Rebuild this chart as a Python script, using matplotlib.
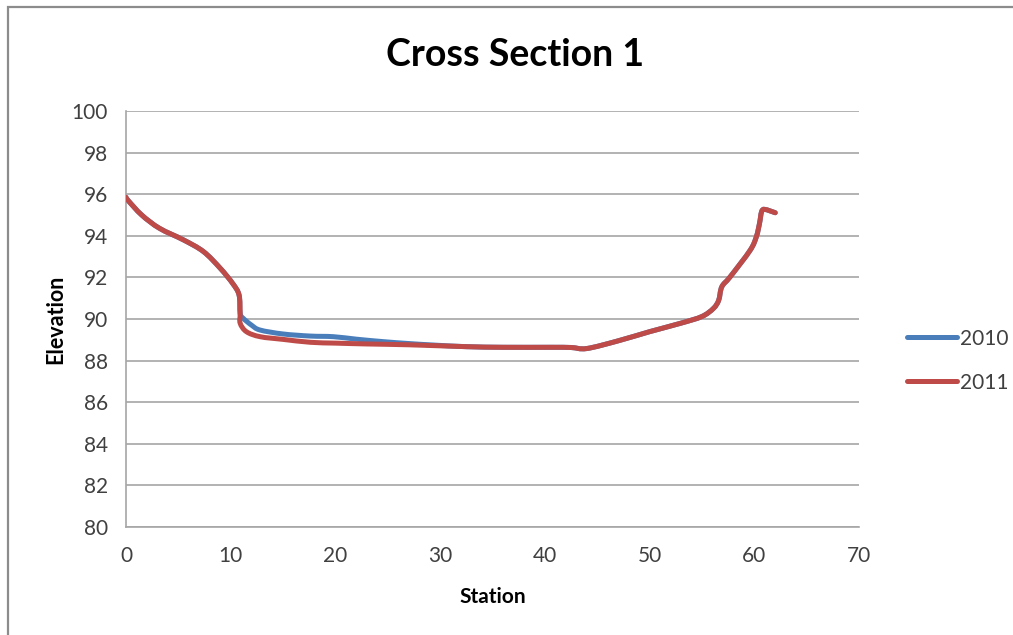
import matplotlib
matplotlib.use("Agg")
import matplotlib.pyplot as plt
import numpy as np
from matplotlib.patches import Rectangle, PathPatch
from matplotlib.path import Path
from matplotlib.lines import Line2D

# Surveyed cross-section profiles (station, elevation)
station_2010 = [0.0, 0.2, 1.5, 3.2, 5.5, 7.4, 9.0, 10.2, 10.8, 10.9, 11.2, 12.0, 12.8,
                15.0, 17.6, 19.8, 22.0, 24.6, 27.0, 29.3, 32.5, 36.0, 40.5, 42.5,
                44.0, 47.0, 50.0, 53.0, 55.0, 56.1, 56.6, 56.9, 57.7, 59.6, 60.2,
                60.5, 60.7, 61.0, 62.0]
elev_2010 = [95.85, 95.7, 95.0, 94.36, 93.8, 93.24, 92.44, 91.7, 91.15, 90.27, 90.03,
             89.7, 89.47, 89.28, 89.18, 89.15, 89.03, 88.91, 88.82, 88.75, 88.67,
             88.64, 88.64, 88.63, 88.58, 88.95, 89.39, 89.8, 90.12, 90.51, 90.9,
             91.55, 92.03, 93.3, 93.96, 94.6, 95.16, 95.27, 95.11]

station_2011 = [0.0, 0.2, 1.5, 3.2, 5.5, 7.4, 9.0, 10.2, 10.8, 10.9, 10.9, 11.5, 12.8,
                15.0, 17.6, 20.0, 23.0, 27.0, 32.5, 36.0, 40.5, 42.5, 44.0, 47.0,
                50.0, 53.0, 55.0, 56.1, 56.6, 56.9, 57.7, 59.6, 60.2, 60.5, 60.7,
                61.0, 62.0]
elev_2011 = [95.85, 95.7, 95.0, 94.36, 93.8, 93.24, 92.44, 91.7, 91.15, 90.27, 89.8,
             89.39, 89.15, 89.02, 88.88, 88.84, 88.8, 88.76, 88.67, 88.64, 88.64,
             88.63, 88.58, 88.95, 89.39, 89.8, 90.12, 90.51, 90.9, 91.55, 92.03,
             93.3, 93.96, 94.6, 95.16, 95.27, 95.11]

x_ticks = [0, 10, 20, 30, 40, 50, 60, 70]
y_ticks = [80, 82, 84, 86, 88, 90, 92, 94, 96, 98, 100]
series_labels = ["2010", "2011"]
series_colors = ["#4a7ebb", "#be4b48"]

FONT = ["Lato", "DejaVu Sans"]
plt.rcParams["font.family"] = FONT


def smooth_path(xs, ys, tension=1 / 6):
    """Cubic Bezier path through every point (spreadsheet-style smoothed line)."""
    p = np.column_stack([xs, ys]).astype(float)
    n = len(p)
    verts = [p[0]]
    codes = [Path.MOVETO]
    for i in range(n - 1):
        p0 = p[i - 1] if i > 0 else p[i]
        p1, p2 = p[i], p[i + 1]
        p3 = p[i + 2] if i + 2 < n else p[i + 1]
        c1 = p1 + (p2 - p0) * tension
        c2 = p2 - (p3 - p1) * tension
        verts += [c1, c2, p2]
        codes += [Path.CURVE4] * 3
    return Path(verts, codes)


fig = plt.figure(figsize=(10.13, 6.35), dpi=100)
fig.patch.set_facecolor("white")

# Chart frame
fig.patches.append(Rectangle((8 / 1013, -0.1), 1.2, 1.1 - 7 / 635,
                             transform=fig.transFigure, fill=False,
                             edgecolor="#8c8c8c", linewidth=1.6, zorder=0))

ax = fig.add_axes([126 / 1013, 1 - 527 / 635, (859 - 126) / 1013, (527 - 111) / 635])

for xs, ys, col, z in [(station_2010, elev_2010, series_colors[0], 3),
                       (station_2011, elev_2011, series_colors[1], 4)]:
    ax.add_patch(PathPatch(smooth_path(xs, ys), fill=False, edgecolor=col, lw=3.6,
                           capstyle="round", joinstyle="round", zorder=z))

ax.set_xlim(0, 70)
ax.set_ylim(80, 100)
ax.set_xticks(x_ticks)
ax.set_yticks(y_ticks)
ax.tick_params(length=0, labelsize=15, colors="#404040")
ax.tick_params(axis="x", pad=14)
ax.tick_params(axis="y", pad=13)
ax.grid(axis="y", color="#a6a6a6", lw=1.2)
ax.set_axisbelow(True)
for s in ["top", "right"]:
    ax.spines[s].set_visible(False)
for s in ["left", "bottom"]:
    ax.spines[s].set_color("#a6a6a6")
    ax.spines[s].set_linewidth(1.2)

ax.set_xlabel("Station", fontsize=15, fontweight="bold", labelpad=15)
ax.set_ylabel("Elevation", fontsize=15.5, fontweight="bold", labelpad=4)
fig.text(515 / 1013, 1 - 55 / 635, "Cross Section 1", ha="center", va="center",
         fontsize=27, fontweight="bold", color="black")

handles = [Line2D([], [], color=c, lw=3.6, solid_capstyle="round") for c in series_colors]
ax.legend(handles, series_labels, loc="center left", bbox_to_anchor=(1.04, 0.40),
          frameon=False, fontsize=15, handlelength=2.4, labelspacing=1.15,
          handletextpad=0.15, labelcolor="#404040")

fig.savefig("out.png", dpi=100, facecolor="white")
